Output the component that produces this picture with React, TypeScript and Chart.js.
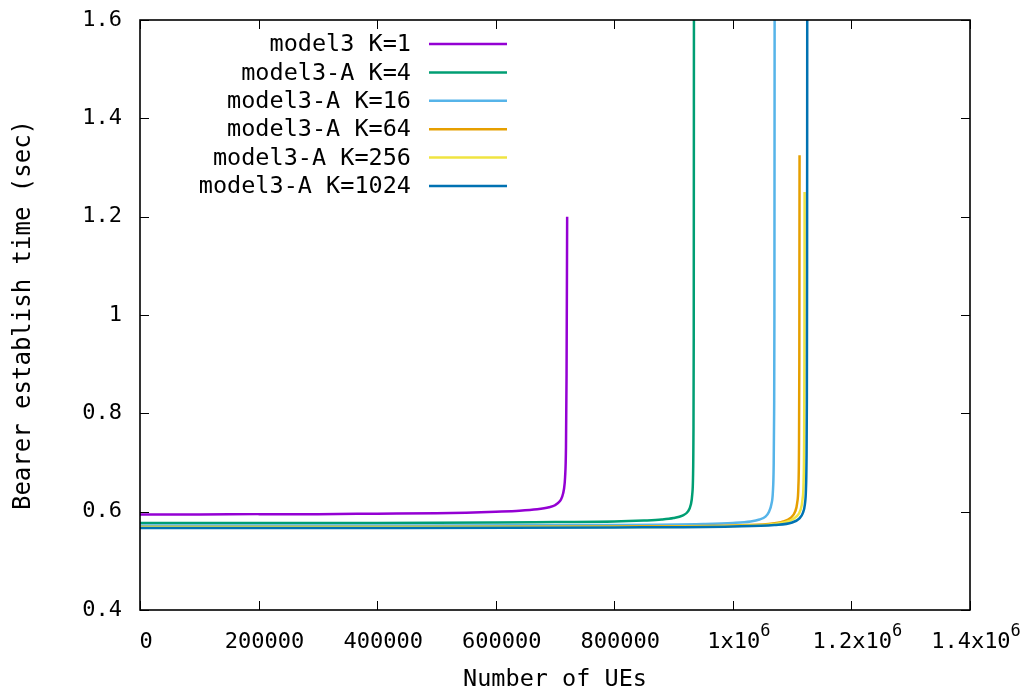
import React, { useEffect, useRef } from "react";
import { Chart, registerables } from "chart.js";

Chart.register(...registerables);

// ---- Data ----
const seriesLabels = [
  "model3 K=1",
  "model3-A K=4",
  "model3-A K=16",
  "model3-A K=64",
  "model3-A K=256",
  "model3-A K=1024",
];
const seriesColors = ["#9400d3", "#009e73", "#56b4e9", "#e69f00", "#f0e442", "#0072b2"];

const k1X = [0, 100000, 200000, 300000, 400000, 500000, 550000, 600000, 640000, 670000, 690000, 700000, 708000, 712000, 715000, 717000, 718500, 719500, 720500];
const k1Y = [0.594, 0.594, 0.595, 0.595, 0.596, 0.597, 0.598, 0.600, 0.602, 0.605, 0.609, 0.613, 0.621, 0.630, 0.645, 0.67, 0.73, 0.88, 1.2];

const k4X = [0, 200000, 400000, 600000, 700000, 800000, 850000, 880000, 900000, 915000, 924000, 929000, 931500, 932800, 933500, 934000, 934400];
const k4Y = [0.577, 0.577, 0.577, 0.578, 0.579, 0.580, 0.582, 0.584, 0.587, 0.592, 0.600, 0.614, 0.635, 0.67, 0.75, 0.95, 1.7];

const k16X = [0, 400000, 800000, 950000, 1000000, 1030000, 1045000, 1055000, 1061000, 1065000, 1067500, 1068800, 1069600, 1070100, 1070500];
const k16Y = [0.572, 0.572, 0.573, 0.575, 0.577, 0.580, 0.584, 0.590, 0.600, 0.615, 0.64, 0.69, 0.80, 1.0, 1.7];

const k64X = [0, 400000, 800000, 1000000, 1060000, 1085000, 1098000, 1105000, 1108500, 1110500, 1111500, 1112100, 1112500];
const k64Y = [0.569, 0.569, 0.570, 0.572, 0.575, 0.580, 0.588, 0.600, 0.618, 0.65, 0.72, 0.90, 1.325];

const k256X = [0, 400000, 800000, 1000000, 1070000, 1095000, 1107000, 1114000, 1117500, 1119300, 1120200, 1120700, 1121000];
const k256Y = [0.569, 0.569, 0.569, 0.571, 0.575, 0.581, 0.590, 0.603, 0.625, 0.66, 0.74, 0.92, 1.25];

const k1024X = [0, 400000, 800000, 1000000, 1070000, 1100000, 1112000, 1118000, 1121500, 1123300, 1124200, 1124800, 1125200, 1125500];
const k1024Y = [0.567, 0.567, 0.568, 0.570, 0.573, 0.578, 0.586, 0.597, 0.615, 0.645, 0.70, 0.82, 1.1, 1.7];

const seriesX = [k1X, k4X, k16X, k64X, k256X, k1024X];
const seriesY = [k1Y, k4Y, k16Y, k64Y, k256Y, k1024Y];

const xTickValues = [0, 200000, 400000, 600000, 800000, 1000000, 1200000, 1400000];
// [base text, superscript]
const xTickBase = ["0", "200000", "400000", "600000", "800000", "1x10", "1.2x10", "1.4x10"];
const xTickSup = ["", "", "", "", "", "6", "6", "6"];
const yTickValues = [0.4, 0.6, 0.8, 1.0, 1.2, 1.4, 1.6];
const yTickLabels = ["0.4", "0.6", "0.8", "1", "1.2", "1.4", "1.6"];

const xTitle = "Number of UEs";
const yTitle = "Bearer establish time (sec)";

const FONT = "'DejaVu Sans Mono', 'Liberation Mono', monospace";
const TICK_SIZE = 22;
const SUP_SIZE = 17;
const LABEL_SIZE = 23.5;

const framePlugin = {
  id: "gnuplotFrame",
  afterDraw(chart: any) {
    const { ctx, chartArea: a, scales } = chart;
    const xs = scales.x;
    const ys = scales.y;
    ctx.save();
    ctx.strokeStyle = "#000";
    ctx.lineWidth = 1;
    const tl = 9;
    ctx.beginPath();
    xs.ticks.forEach((t: any) => {
      const px = Math.round(xs.getPixelForValue(t.value)) + 0.5;
      ctx.moveTo(px, a.bottom);
      ctx.lineTo(px, a.bottom - tl);
      ctx.moveTo(px, a.top);
      ctx.lineTo(px, a.top + tl);
    });
    ys.ticks.forEach((t: any) => {
      const py = Math.round(ys.getPixelForValue(t.value)) + 0.5;
      ctx.moveTo(a.left, py);
      ctx.lineTo(a.left + tl, py);
      ctx.moveTo(a.right, py);
      ctx.lineTo(a.right - tl, py);
    });
    ctx.stroke();
    ctx.lineWidth = 1.6;
    ctx.strokeRect(a.left, a.top, a.right - a.left, a.bottom - a.top);

    // x tick labels with superscript exponents
    ctx.fillStyle = "#000";
    ctx.textBaseline = "alphabetic";
    ctx.textAlign = "left";
    const baseY = a.bottom + 38;
    xTickValues.forEach((v, i) => {
      const px = xs.getPixelForValue(v);
      ctx.font = `${TICK_SIZE}px ${FONT}`;
      const wb = ctx.measureText(xTickBase[i]).width;
      ctx.font = `${SUP_SIZE}px ${FONT}`;
      const ws = xTickSup[i] ? ctx.measureText(xTickSup[i]).width : 0;
      const start = px + 6 - (wb + ws) / 2;
      ctx.font = `${TICK_SIZE}px ${FONT}`;
      ctx.fillText(xTickBase[i], start, baseY);
      if (xTickSup[i]) {
        ctx.font = `${SUP_SIZE}px ${FONT}`;
        ctx.fillText(xTickSup[i], start + wb, baseY - 12);
      }
    });

    // key (legend) drawn from the datasets
    ctx.font = `${LABEL_SIZE}px ${FONT}`;
    ctx.textAlign = "right";
    ctx.textBaseline = "middle";
    const textRight = 411;
    const lineL = 429;
    const lineR = 507;
    const top = 44;
    const step = 28.4;
    chart.data.datasets.forEach((ds: any, i: number) => {
      const yy = top + i * step;
      ctx.fillStyle = "#000";
      ctx.fillText(ds.label, textRight, yy + 1);
      ctx.strokeStyle = ds.borderColor;
      ctx.lineWidth = 2.5;
      ctx.beginPath();
      ctx.moveTo(lineL, yy);
      ctx.lineTo(lineR, yy);
      ctx.stroke();
    });
    ctx.restore();
  },
};

export default function App() {
  const ref = useRef<HTMLCanvasElement | null>(null);

  useEffect(() => {
    document.body.style.margin = "0";
    const canvas = ref.current;
    if (!canvas) return;
    const datasets = seriesLabels.map((label, i) => ({
      label,
      data: seriesX[i].map((x, j) => ({ x, y: seriesY[i][j] })),
      borderColor: seriesColors[i],
      backgroundColor: seriesColors[i],
      borderWidth: 2.5,
      pointRadius: 0,
      fill: false,
      cubicInterpolationMode: "monotone" as const,
      clip: 0,
      order: seriesLabels.length - 1 - i,
    }));

    const chart = new Chart(canvas, {
      type: "line",
      data: { datasets },
      plugins: [framePlugin],
      options: {
        animation: false,
        responsive: false,
        maintainAspectRatio: false,
        layout: { padding: { top: 20, right: 63, left: 0, bottom: 0 } },
        plugins: {
          legend: { display: false },
          tooltip: { enabled: false },
        },
        scales: {
          x: {
            type: "linear",
            min: 0,
            max: 1400000,
            afterBuildTicks: (s: any) => {
              s.ticks = xTickValues.map((v) => ({ value: v }));
            },
            afterFit: (s: any) => {
              s.height = 89;
              s.paddingLeft = 0;
              s.paddingRight = 0;
            },
            grid: { display: false, drawTicks: false },
            border: { display: false },
            ticks: { display: false },
            title: {
              display: true,
              text: xTitle,
              color: "#000",
              font: { family: FONT, size: LABEL_SIZE },
              padding: { top: 0, bottom: 5 },
            },
          },
          y: {
            type: "linear",
            min: 0.4,
            max: 1.6,
            afterBuildTicks: (s: any) => {
              s.ticks = yTickValues.map((v) => ({ value: v }));
            },
            afterFit: (s: any) => {
              s.width = 140;
              s.paddingTop = 0;
              s.paddingBottom = 0;
            },
            grid: { display: false, drawTicks: false },
            border: { display: false },
            ticks: {
              autoSkip: false,
              padding: 18,
              color: "#000",
              font: { family: FONT, size: TICK_SIZE },
              callback: (v: any) => {
                const idx = yTickValues.findIndex((t) => Math.abs(t - Number(v)) < 1e-9);
                return idx >= 0 ? yTickLabels[idx] : "";
              },
            },
            title: {
              display: true,
              text: yTitle,
              color: "#000",
              font: { family: FONT, size: 24 },
              padding: { top: 9, bottom: 0 },
            },
          },
        },
      },
    });
    return () => chart.destroy();
  }, []);

  return (
    <div style={{ width: 1033, height: 699, background: "#fff" }}>
      <canvas ref={ref} width={1033} height={699} style={{ display: "block" }} />
    </div>
  );
}
